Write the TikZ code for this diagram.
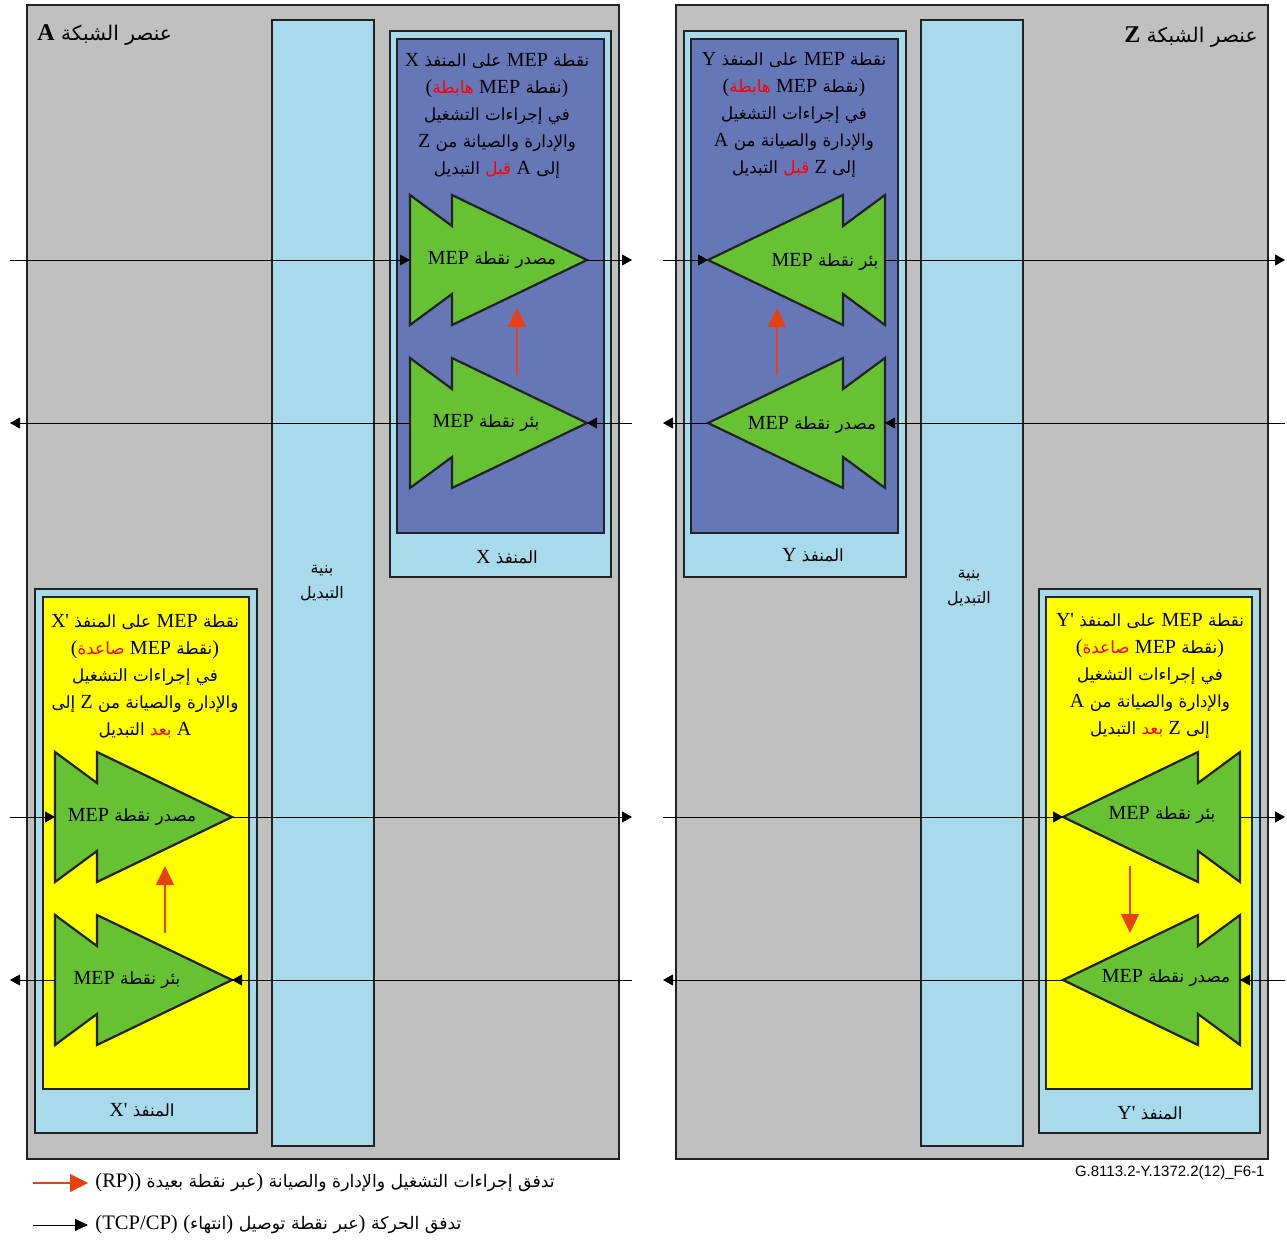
\documentclass[tikz,border=0pt]{standalone}
\usepackage{fontspec}
\setmainfont{Liberation Serif}
\newfontfamily\latinfont{Liberation Serif}[Ligatures=TeXOff]
\newfontfamily\arabicfont[Script=Arabic,Scale=0.84]{DejaVu Sans}
% red keywords get their colour from the font itself
\newfontfamily\arabicredfont[Script=Arabic,Scale=0.84,Color=FF0000]{DejaVu Sans}
\newfontfamily\codefont{Liberation Sans}
\TeXXeTstate=1
\usetikzlibrary{arrows.meta}

\definecolor{negray}{RGB}{192,192,192}
\definecolor{fabblue}{RGB}{168,218,236}
\definecolor{portblue}{RGB}{102,119,184}
\definecolor{mepgreen}{RGB}{102,193,51}
\definecolor{portyellow}{RGB}{255,255,0}
\definecolor{oamred}{RGB}{232,64,16}
\definecolor{edgegray}{RGB}{34,34,34}

% Latin words inside Arabic lines, red keywords, one right-to-left line
\newcommand\ltn[1]{{\latinfont #1}}
\newcommand\rd[1]{{\arabicredfont #1}}
\newcommand\rl[1]{\beginR #1\endR}

% MEP symbol: two stacked arrowheads; #1,#2 flat edge, #3 = 1 (points right) or -1 (points left)
\newcommand\mepsym[3]{%
  \begin{scope}[shift={(#1,#2)},xscale=#3]
    \draw[mepshape] (0,-65) -- (42,-34) -- (42,-65) -- (177,0) -- (42,65) -- (42,34) -- (0,65) -- cycle;
  \end{scope}}

\begin{document}
\begin{tikzpicture}[x=0.5pt,y=-0.5pt,
  nebox/.style={draw=edgegray,line width=1pt,fill=negray},
  fabbox/.style={draw=edgegray,line width=1pt,fill=fabblue},
  portouter/.style={draw=edgegray,line width=1pt,fill=fabblue},
  portinner/.style={draw=edgegray,line width=1.4pt,fill=#1},
  mepshape/.style={draw=edgegray,line width=1.1pt,fill=mepgreen,line join=miter},
  txt/.style={font=\fontsize{10}{13.5}\selectfont\arabicfont,align=center,inner sep=0pt},
  meptxt/.style={font=\fontsize{10}{12}\selectfont\arabicfont,inner sep=0pt},
  flow/.style={line width=0.5pt,draw=black,-{Triangle[width=5.5pt,length=5pt]}},
  oam/.style={line width=0.7pt,draw=oamred,-{Triangle[width=9pt,length=9.5pt]},color=oamred},
]
\useasboundingbox (0,0) rectangle (1287,1242);
\fill[white] (0,0) rectangle (1287,1242);

% network elements and switch fabrics
\draw[nebox] (27,5) rectangle (619,1159);
\draw[nebox] (676,5) rectangle (1268,1159);
\draw[fabbox] (272,20) rectangle (374,1146);
\draw[fabbox] (921,20) rectangle (1023,1146);

% ports
\draw[portouter] (390,31) rectangle (611,577);
\draw[portinner=portblue] (397,39) rectangle (604,533);
\draw[portouter] (684,31) rectangle (906,577);
\draw[portinner=portblue] (691,39) rectangle (898,533);
\draw[portouter] (35,589) rectangle (257,1133);
\draw[portinner=portyellow] (43,597) rectangle (249,1089);
\draw[portouter] (1039,589) rectangle (1260,1133);
\draw[portinner=portyellow] (1046,597) rectangle (1252,1089);

% MEP symbols
\mepsym{410}{260}{1}
\mepsym{410}{423}{1}
\mepsym{885}{260}{-1}
\mepsym{885}{423}{-1}
\mepsym{55}{817}{1}
\mepsym{55}{980}{1}
\mepsym{1240}{817}{-1}
\mepsym{1240}{980}{-1}

% titles
\node[txt,anchor=west,font=\fontsize{12}{14}\selectfont\arabicfont] (titleA) at (37,35) {\rl{عنصر الشبكة \ltn{\bfseries A}}};
\node[txt,anchor=east,font=\fontsize{12}{14}\selectfont\arabicfont] (titleZ) at (1258,37) {\rl{عنصر الشبكة \ltn{\bfseries Z}}};

% switch fabric labels
\node[txt,font=\fontsize{9.5}{12.5}\selectfont\arabicfont] (fabA) at (322,583) {\rl{بنية}\\\rl{التبديل}};
\node[txt,font=\fontsize{9.5}{12.5}\selectfont\arabicfont] (fabZ) at (969,588) {\rl{بنية}\\\rl{التبديل}};

% port descriptions
\node[txt] (descX) at (497,116) {%
  \rl{نقطة \ltn{MEP} على المنفذ \ltn{X}}\\
  \rl{\ltn{)}نقطة \ltn{MEP} \rd{هابطة}\ltn{(}}\\
  \rl{في إجراءات التشغيل}\\
  \rl{والإدارة والصيانة من \ltn{Z}}\\
  \rl{إلى \ltn{A} \rd{قبل} التبديل}};
\node[txt] (descY) at (794,115) {%
  \rl{نقطة \ltn{MEP} على المنفذ \ltn{Y}}\\
  \rl{\ltn{)}نقطة \ltn{MEP} \rd{هابطة}\ltn{(}}\\
  \rl{في إجراءات التشغيل}\\
  \rl{والإدارة والصيانة من \ltn{A}}\\
  \rl{إلى \ltn{Z} \rd{قبل} التبديل}};
\node[txt] (descXp) at (145,676) {%
  \rl{نقطة \ltn{MEP} على المنفذ \ltn{X'}}\\
  \rl{\ltn{)}نقطة \ltn{MEP} \rd{صاعدة}\ltn{(}}\\
  \rl{في إجراءات التشغيل}\\
  \rl{والإدارة والصيانة من \ltn{Z} إلى}\\
  \rl{\ltn{A} \rd{بعد} التبديل}};
\node[txt] (descYp) at (1150,676) {%
  \rl{نقطة \ltn{MEP} على المنفذ \ltn{Y'}}\\
  \rl{\ltn{)}نقطة \ltn{MEP} \rd{صاعدة}\ltn{(}}\\
  \rl{في إجراءات التشغيل}\\
  \rl{والإدارة والصيانة من \ltn{A}}\\
  \rl{إلى \ltn{Z} \rd{بعد} التبديل}};

% port names
\node[txt] (portX) at (507,557) {\rl{المنفذ \ltn{X}}};
\node[txt] (portY) at (813,555) {\rl{المنفذ \ltn{Y}}};
\node[txt] (portXp) at (142,1110) {\rl{المنفذ \ltn{X'}}};
\node[txt] (portYp) at (1150,1113) {\rl{المنفذ \ltn{Y'}}};

% MEP labels
\node[meptxt] (xsrc) at (492,260) {\rl{مصدر نقطة \ltn{MEP}}};
\node[meptxt] (xsnk) at (486,423) {\rl{بئر نقطة \ltn{MEP}}};
\node[meptxt] (ysnk) at (825,262) {\rl{بئر نقطة \ltn{MEP}}};
\node[meptxt] (ysrc) at (812,425) {\rl{مصدر نقطة \ltn{MEP}}};
\node[meptxt] (xpsrc) at (132,817) {\rl{مصدر نقطة \ltn{MEP}}};
\node[meptxt] (xpsnk) at (127,980) {\rl{بئر نقطة \ltn{MEP}}};
\node[meptxt] (ypsnk) at (1162,815) {\rl{بئر نقطة \ltn{MEP}}};
\node[meptxt] (ypsrc) at (1166,978) {\rl{مصدر نقطة \ltn{MEP}}};

% connection points of the MEP symbols
\coordinate (xsrcE) at (410,260);  \coordinate (xsrcT) at (587,260);
\coordinate (xsnkE) at (410,423);  \coordinate (xsnkT) at (587,423);
\coordinate (ysnkT) at (708,260);  \coordinate (ysnkE) at (885,260);
\coordinate (ysrcT) at (708,423);  \coordinate (ysrcE) at (885,423);
\coordinate (xpsrcE) at (55,817);  \coordinate (xpsrcT) at (232,817);
\coordinate (xpsnkE) at (55,980);  \coordinate (xpsnkT) at (232,980);
\coordinate (ypsnkT) at (1063,817); \coordinate (ypsnkE) at (1240,817);
\coordinate (ypsrcT) at (1063,980); \coordinate (ypsrcE) at (1240,980);

% free ends of the traffic lines
\coordinate (aW1) at (10,260);   \coordinate (aE1) at (632,260);
\coordinate (aW2) at (10,423);   \coordinate (aE2) at (632,423);
\coordinate (aW3) at (10,817);   \coordinate (aE3) at (632,817);
\coordinate (aW4) at (10,980);   \coordinate (aE4) at (632,980);
\coordinate (zW1) at (663,260);  \coordinate (zE1) at (1285,260);
\coordinate (zW2) at (663,423);  \coordinate (zE2) at (1285,423);
\coordinate (zW3) at (663,817);  \coordinate (zE3) at (1285,817);
\coordinate (zW4) at (663,980);  \coordinate (zE4) at (1285,980);

% traffic flows
\draw[flow] (aW1) -- (xsrcE);  \draw[flow] (xsrcT) -- (aE1);
\draw[flow] (aE2) -- (xsnkT);  \draw[flow] (xsnkE) -- (aW2);
\draw[flow] (zW1) -- (ysnkT);  \draw[flow] (ysnkE) -- (zE1);
\draw[flow] (zE2) -- (ysrcE);  \draw[flow] (ysrcT) -- (zW2);
\draw[flow] (aW3) -- (xpsrcE); \draw[flow] (xpsrcT) -- (aE3);
\draw[flow] (aE4) -- (xpsnkT); \draw[flow] (xpsnkE) -- (aW4);
\draw[flow] (zW3) -- (ypsnkT); \draw[flow] (ypsnkE) -- (zE3);
\draw[flow] (zE4) -- (ypsrcE); \draw[flow] (ypsrcT) -- (zW4);

% OAM flows between sink and source MEPs
\coordinate (xo1) at (517,375); \coordinate (xo2) at (517,308);
\coordinate (yo1) at (777,375); \coordinate (yo2) at (777,308);
\coordinate (xpo1) at (165,933); \coordinate (xpo2) at (165,866);
\coordinate (ypo1) at (1130,866); \coordinate (ypo2) at (1130,933);
\draw[oam] (xo1) -- (xo2);
\draw[oam] (yo1) -- (yo2);
\draw[oam] (xpo1) -- (xpo2);
\draw[oam] (ypo1) -- (ypo2);

% legend
\coordinate (lg1a) at (33,1183); \coordinate (lg1b) at (88,1183);
\coordinate (lg2a) at (33,1225); \coordinate (lg2b) at (88,1225);
\draw[line width=0.6pt,draw=oamred,-{Triangle[width=9pt,length=9pt]},color=oamred] (lg1a) -- (lg1b);
\draw[line width=0.5pt,-{Triangle[width=6pt,length=6.5pt]}] (lg2a) -- (lg2b);
\node[txt,anchor=west,font=\fontsize{10.3}{13}\selectfont\arabicfont] (lgt1) at (95,1183) {\rl{تدفق إجراءات التشغيل والإدارة والصيانة \ltn{)}عبر نقطة بعيدة \ltn{(RP))}}};
\node[txt,anchor=west,font=\fontsize{10.3}{13}\selectfont\arabicfont] (lgt2) at (95,1225) {\rl{تدفق الحركة \ltn{)}عبر نقطة توصيل \ltn{)}انتهاء\ltn{(} \ltn{(TCP/CP)}}};

% figure code
\node[anchor=east,inner sep=0pt,font=\codefont\fontsize{7.5}{9}\selectfont] (code) at (1265,1173) {G.8113.2-Y.1372.2(12)\_F6-1};
\end{tikzpicture}
\end{document}
